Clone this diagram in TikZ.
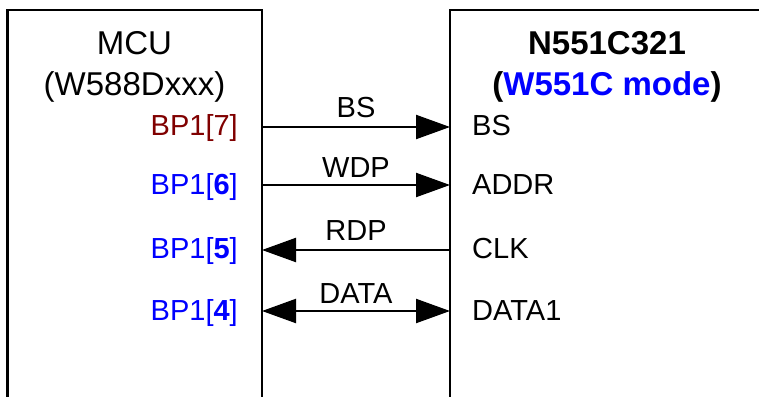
\documentclass[tikz,border=0pt]{standalone}
\usepackage{fontspec}
\setmainfont{Liberation Sans}
\usetikzlibrary{arrows.meta}
\definecolor{sigred}{RGB}{128,0,0}
\definecolor{sigblue}{RGB}{0,0,255}
\tikzset{
  boxline/.style={line width=2.7pt, line cap=rect},
  sig/.style={line width=2.2pt, -{Triangle[length=34pt,width=24pt]}},
  sigboth/.style={line width=2.2pt, {Triangle[length=34pt,width=24pt]}-{Triangle[length=34pt,width=24pt]}},
  lbl/.style={inner sep=0pt, font=\fontsize{29}{34}\selectfont},
  ttl/.style={inner sep=0pt, font=\fontsize{33}{38}\selectfont},
}
\begin{document}
\begin{tikzpicture}[x=1pt,y=-1pt]
\useasboundingbox (0,0) rectangle (759,396);
% boxes
\draw[boxline] (7.5,400) -- (7.5,10) -- (262,10) -- (262,400);
\draw[boxline] (450,400) -- (450,10) -- (762,10);
% titles
\node[ttl, anchor=base] (mcu) at (134.5,55) {MCU};
\node[ttl, anchor=base] (mcupn) at (134.5,95) {(W588Dxxx)};
\node[ttl, anchor=base, font=\fontsize{33}{38}\selectfont\bfseries] (chip) at (607,55) {N551C321};
\node[ttl, anchor=base, font=\fontsize{33}{38}\selectfont\bfseries] (mode) at (607,95) {(\textcolor{sigblue}{W551C mode})};
% left pin labels
\node[lbl, anchor=base east, text=sigred] (p7) at (238,135) {BP1[7]};
\node[lbl, anchor=base east, text=sigblue] (p6) at (238,194) {BP1[\textbf{6}]};
\node[lbl, anchor=base east, text=sigblue] (p5) at (238,258) {BP1[\textbf{5}]};
\node[lbl, anchor=base east, text=sigblue] (p4) at (238,320) {BP1[\textbf{4}]};
% right pin labels
\node[lbl, anchor=base west] (q1) at (472,135) {BS};
\node[lbl, anchor=base west] (q2) at (472,194) {ADDR};
\node[lbl, anchor=base west] (q3) at (472,258) {CLK};
\node[lbl, anchor=base west] (q4) at (472,320) {DATA1};
% connector ends
\coordinate (a1) at (262,127); \coordinate (b1) at (450,127);
\coordinate (a2) at (262,185); \coordinate (b2) at (450,185);
\coordinate (a3) at (262,250); \coordinate (b3) at (450,250);
\coordinate (a4) at (262,311); \coordinate (b4) at (450,311);
\draw[sig] (a1) -- (b1);
\draw[sig] (a2) -- (b2);
\draw[sig] (b3) -- (a3);
\draw[sigboth] (a4) -- (b4);
% connector labels
\node[lbl, anchor=base] (s1) at (356,117) {BS};
\node[lbl, anchor=base] (s2) at (356,177) {WDP};
\node[lbl, anchor=base] (s3) at (356,240) {RDP};
\node[lbl, anchor=base] (s4) at (356,303) {DATA};
\end{tikzpicture}
\end{document}
